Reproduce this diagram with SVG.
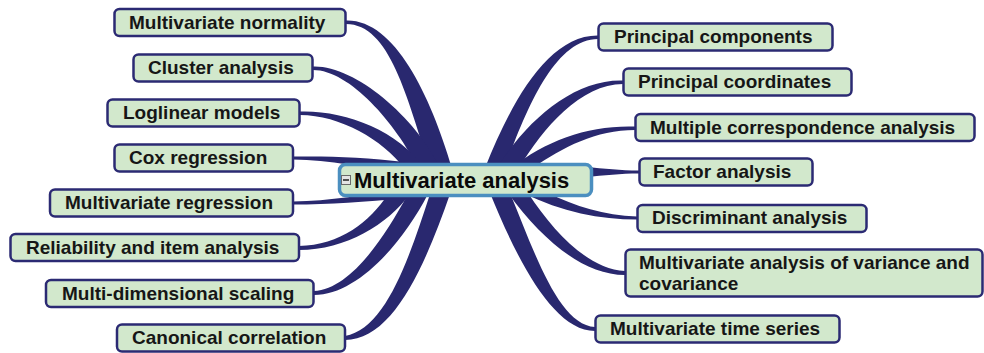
<svg xmlns="http://www.w3.org/2000/svg" width="984" height="353" viewBox="0 0 984 353">
<style>
.node rect{fill:#d2e8cc;stroke:#2b2a73;stroke-width:2.5}
.node text{font-family:"Liberation Sans",Arial,sans-serif;font-weight:bold;font-size:19px;fill:#161616}
#connectors path{fill:#29286f;stroke:none}
#center rect.box{fill:#d2e8cc;stroke:#4b8fc0;stroke-width:3.5}
#center text{font-family:"Liberation Sans",Arial,sans-serif;font-weight:bold;font-size:22px;fill:#0a0a0a}
</style>
<rect width="984" height="353" fill="#ffffff"/>
<g id="connectors">
<!-- left top -->
<path d="M346,20.5 C394,19 430,94 452,168 L430,168 C407,98 390,24 346,24 Z"/>
<path d="M313,66.5 C354,65 415,116 440,168 L418,168 C396,124 350,70 313,70 Z"/>
<path d="M300,111.5 C344,110 398,130 424,168 L404,168 C383,140 340,115 300,115 Z"/>
<path d="M293,156.5 C330,156 365,157 405,162 L405,172 C365,168 330,160 293,159.5 Z"/>
<!-- left bottom -->
<path d="M293,201.5 C330,201 365,195 405,188 L405,198 C365,202 330,204.5 293,204.5 Z"/>
<path d="M299,246 C340,245 370,222 388,194 L410,194 C388,224 346,250 299,250 Z"/>
<path d="M314,291 C350,289 383,240 408,194 L428,194 C401,246 356,295 314,295 Z"/>
<path d="M345,336 C385,329 408,262 430,194 L450,194 C423,272 391,340 345,340 Z"/>
<!-- right top -->
<path d="M598,35.5 C549,35 512,100 485,168 L505,168 C527,106 556,39 598,39 Z"/>
<path d="M623,80.5 C574,79 527,120 497,168 L519,168 C543,128 581,84 623,84 Z"/>
<path d="M635,126.5 C589,125 547,140 511,168 L533,168 C563,147 596,130 635,130 Z"/>
<path d="M639,170.5 C620,170.5 605,168.5 585,167 L585,177 C605,175.5 620,173.5 639,173.5 Z"/>
<!-- right bottom -->
<path d="M637,216.5 C604,215.5 575,206 548,193 L523,193 C562,212 600,219.5 637,219.5 Z"/>
<path d="M625,271 C589,269 555,234 528,193 L508,193 C543,241 584,275 625,275 Z"/>
<path d="M595,327 C559,325 535,254 510,193 L490,193 C518,262 554,331 595,331 Z"/>
</g>
<g id="center">
<rect class="box" x="339.5" y="164.5" width="252" height="31" rx="6"/>
<rect x="341.5" y="175.5" width="9" height="9" fill="#e4e4e4" stroke="#6a6a6a" stroke-width="1"/>
<line x1="343" y1="180" x2="349" y2="180" stroke="#222" stroke-width="1.5"/>
<text x="354" y="188">Multivariate analysis</text>
</g>
<g id="n-normality" class="node"><rect x="114.5" y="9" width="231" height="27" rx="5"/><text x="129" y="29">Multivariate normality</text></g>
<g id="n-cluster" class="node"><rect x="133.5" y="54.5" width="179" height="27" rx="5"/><text x="148" y="74">Cluster analysis</text></g>
<g id="n-loglinear" class="node"><rect x="107.5" y="99.5" width="192" height="27" rx="5"/><text x="123" y="119">Loglinear models</text></g>
<g id="n-cox" class="node"><rect x="114.5" y="144.5" width="178.5" height="27" rx="5"/><text x="129" y="164">Cox regression</text></g>
<g id="n-mvreg" class="node"><rect x="50" y="189.5" width="243" height="27" rx="5"/><text x="65" y="209">Multivariate regression</text></g>
<g id="n-reliability" class="node"><rect x="10.5" y="234" width="288.5" height="27" rx="5"/><text x="26" y="254">Reliability and item analysis</text></g>
<g id="n-mds" class="node"><rect x="46" y="280" width="267.5" height="27" rx="5"/><text x="62" y="300">Multi-dimensional scaling</text></g>
<g id="n-canonical" class="node"><rect x="117" y="324.5" width="228" height="27" rx="5"/><text x="132" y="344">Canonical correlation</text></g>
<g id="n-pca" class="node"><rect x="598.5" y="23.5" width="234" height="27" rx="5"/><text x="614" y="43">Principal components</text></g>
<g id="n-pco" class="node"><rect x="623.5" y="68.5" width="228" height="27" rx="5"/><text x="638" y="88">Principal coordinates</text></g>
<g id="n-mca" class="node"><rect x="635.5" y="114" width="339" height="27" rx="5"/><text x="650" y="134">Multiple correspondence analysis</text></g>
<g id="n-factor" class="node"><rect x="639.5" y="158.5" width="173" height="27" rx="5"/><text x="653" y="178">Factor analysis</text></g>
<g id="n-discrim" class="node"><rect x="637.5" y="205" width="229" height="27" rx="5"/><text x="652" y="224">Discriminant analysis</text></g>
<g id="n-manova" class="node"><rect x="625.5" y="249.5" width="357" height="47" rx="5"/><text x="639" y="269">Multivariate analysis of variance and</text><text x="639" y="290">covariance</text></g>
<g id="n-timeseries" class="node"><rect x="595.5" y="315.5" width="244" height="27" rx="5"/><text x="610" y="335">Multivariate time series</text></g>
</svg>
